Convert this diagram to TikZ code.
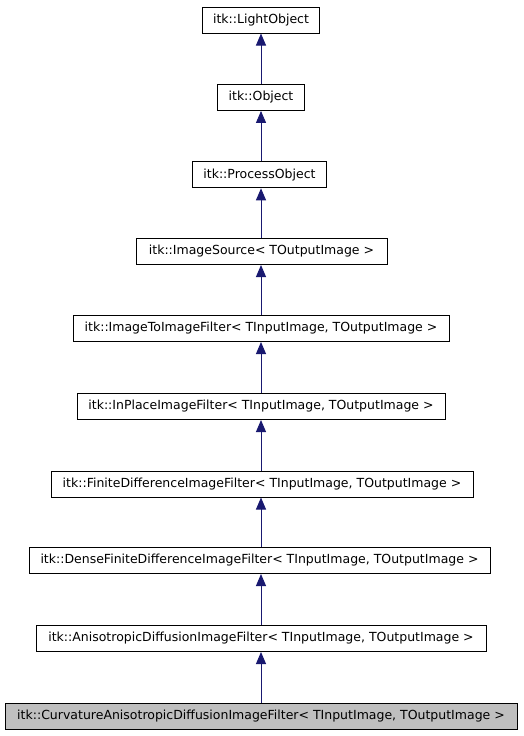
\documentclass[tikz,border=0pt]{standalone}
\usepackage{fontspec}
\setmainfont{DejaVu Sans}
\usetikzlibrary{arrows.meta}
\definecolor{edgeblue}{HTML}{191970}
\definecolor{boxgray}{HTML}{BFBFBF}
\begin{document}
\begin{tikzpicture}[x=1pt,y=-1pt,
  cls/.style={draw=black,line width=1pt,fill=white,inner sep=0pt,minimum height=26pt,font=\fontsize{12.5}{14}\selectfont,text=black},
  cur/.style={cls,fill=boxgray},
  inh/.style={draw=edgeblue,line width=1pt,-{Triangle[length=12pt,width=10pt]},fill=edgeblue}]
\useasboundingbox (0,0) rectangle (523,736);
\node[cls,minimum width=117pt] (n1) at (261,20) {itk::LightObject};
\node[cls,minimum width=87pt] (n2) at (261,97.4) {itk::Object};
\node[cls,minimum width=134pt] (n3) at (259.5,174.8) {itk::ProcessObject};
\node[cls,minimum width=251pt] (n4) at (261.5,251.5) {itk::ImageSource< TOutputImage >};
\node[cls,minimum width=376pt] (n5) at (261,328.5) {itk::ImageToImageFilter< TInputImage, TOutputImage >};
\node[cls,minimum width=368pt] (n6) at (261,406.5) {itk::InPlaceImageFilter< TInputImage, TOutputImage >};
\node[cls,minimum width=422pt] (n7) at (262,484) {itk::FiniteDifferenceImageFilter< TInputImage, TOutputImage >};
\node[cls,minimum width=461pt] (n8) at (259.5,560.5) {itk::DenseFiniteDifferenceImageFilter< TInputImage, TOutputImage >};
\node[cls,minimum width=450pt] (n9) at (261,638.5) {itk::AnisotropicDiffusionImageFilter< TInputImage, TOutputImage >};
\node[cur,minimum width=512pt] (n10) at (261,716.5) {itk::CurvatureAnisotropicDiffusionImageFilter< TInputImage, TOutputImage >};
\foreach \a/\b in {n2/n1,n3/n2,n4/n3,n5/n4,n6/n5,n7/n6,n8/n7,n9/n8,n10/n9}
  \draw[inh] (\a.north -| 261,0) -- (\b.south -| 261,0);
\end{tikzpicture}
\end{document}
